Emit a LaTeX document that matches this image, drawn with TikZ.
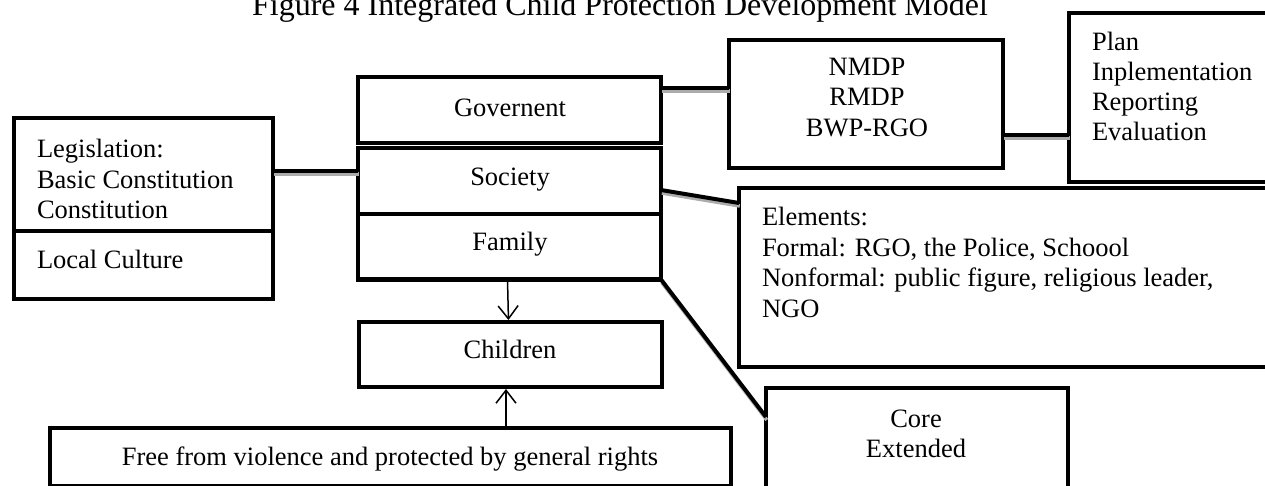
\documentclass[tikz,border=0pt]{standalone}
\usepackage{fontspec}
\setmainfont{Liberation Serif}
\usetikzlibrary{arrows.meta}
\begin{document}
\begin{tikzpicture}[x=1pt,y=-1pt,
  box/.style={draw, rectangle, line width=4.5pt, inner sep=0pt, outer sep=0pt},
  txt/.style={font=\fontsize{26.5}{30.5}\selectfont, inner sep=0pt, outer sep=0pt},
  conn/.style={line width=4pt, preaction={draw=gray!65, line width=3.5pt, transform canvas={xshift=0.8pt,yshift=-3pt}}},
  arr/.style={line width=1.5pt, -{Straight Barb[length=13pt,width=20pt,line width=1.5pt]}, shorten >=2pt}]
\clip (0,0) rectangle (1265,485);
% title
\node[txt, font=\fontsize{32}{36}\selectfont, anchor=base] (title) at (620,15) {Figure 4 Integrated Child Protection Development Model};
% boxes
\node[box, minimum width=303pt, minimum height=66pt] (gov) at (509.5,110) {};
\node[box, minimum width=303pt, minimum height=66pt] (soc) at (509.5,181) {};
\node[box, minimum width=303pt, minimum height=65.5pt] (fam) at (509.5,246.75) {};
\node[box, minimum width=303pt, minimum height=65pt] (children) at (510.5,354.5) {};
\node[box, minimum width=681pt, minimum height=58pt] (free) at (390.5,457) {};
\node[box, minimum width=259pt, minimum height=113pt] (legis) at (143.5,174.5) {};
\node[box, minimum width=259pt, minimum height=68pt] (local) at (143.5,265) {};
\node[box, minimum width=274pt, minimum height=128pt] (nmdp) at (866,104) {};
\node[box, minimum width=211pt, minimum height=169pt] (plan) at (1174.5,97.5) {};
\node[box, minimum width=541pt, minimum height=179pt] (elem) at (1009.5,277.5) {};
\node[box, minimum width=302pt, minimum height=107pt] (core) at (917,441.5) {};
% texts
\node[txt, anchor=base] (tgov) at (510,116) {Governent};
\node[txt, anchor=base] (tsoc) at (510,185) {Society};
\node[txt, anchor=base] (tfam) at (510,250) {Family};
\node[txt, anchor=base] (tchi) at (510,358) {Children};
\node[txt, anchor=base] (tfree) at (390,465) {Free from violence and protected by general rights};
\node[txt, anchor=base west] (tl1) at (37,157) {Legislation:};
\node[txt, anchor=base west] (tl2) at (37,188) {Basic Constitution};
\node[txt, anchor=base west] (tl3) at (37,218) {Constitution};
\node[txt, anchor=base west] (tlc) at (37,268) {Local Culture};
\node[txt, anchor=base] (tn1) at (867,75) {NMDP};
\node[txt, anchor=base] (tn2) at (867,105) {RMDP};
\node[txt, anchor=base] (tn3) at (867,136) {BWP-RGO};
\node[txt, anchor=base west] (tp1) at (1092,50) {Plan};
\node[txt, anchor=base west] (tp2) at (1092,80) {Inplementation};
\node[txt, anchor=base west] (tp3) at (1092,110) {Reporting};
\node[txt, anchor=base west] (tp4) at (1092,140) {Evaluation};
\node[txt, anchor=base west] (te1) at (762,225) {Elements:};
\node[txt, anchor=base west] (te2) at (762,256) {Formal: RGO, the Police, Schoool};
\node[txt, anchor=base west] (te3) at (762,286) {Nonformal: public figure, religious leader,};
\node[txt, anchor=base west] (te4) at (762,317) {NGO};
\node[txt, anchor=base] (tc1) at (916,427) {Core};
\node[txt, anchor=base] (tc2) at (916,457) {Extended};
% connectors
\draw[conn] ([yshift=3.5pt]legis.east) -- ([yshift=3.5pt]legis.east -| soc.west);
\draw[conn] ([yshift=16pt]nmdp.west -| gov.east) -- ([yshift=16pt]nmdp.west);
\draw[conn] ([yshift=-31pt]nmdp.east) -- ([yshift=-31pt]nmdp.east -| plan.west);
\draw[conn] ([yshift=-9pt]soc.east) -- ([yshift=-15pt]elem.north west);
\draw[conn] (fam.south east) -- ([yshift=-29pt]core.north west);
% arrows
\draw[arr] ([xshift=-2pt]fam.south) -- ([xshift=-2pt]children.north);
\draw[arr] ([xshift=-4.5pt]children.south |- free.north) -- ([xshift=-4.5pt]children.south);
\end{tikzpicture}
\end{document}
